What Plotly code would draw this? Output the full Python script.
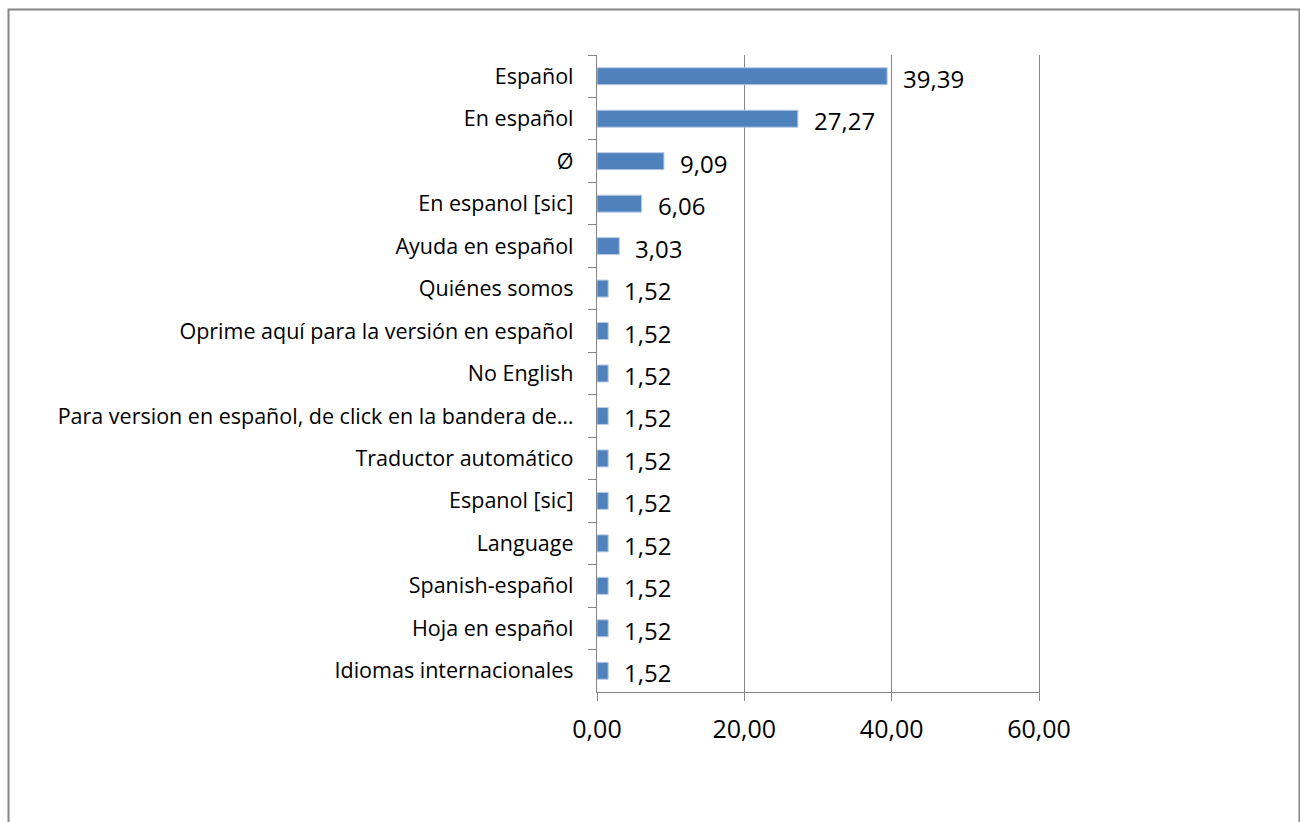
import plotly.graph_objects as go

categories = [
    "Español",
    "En español",
    "Ø",
    "En espanol [sic]",
    "Ayuda en español",
    "Quiénes somos",
    "Oprime aquí para la versión en español",
    "No English",
    "Para version en español, de click en la bandera de…",
    "Traductor automático",
    "Espanol [sic]",
    "Language",
    "Spanish-español",
    "Hoja en español",
    "Idiomas internacionales",
]
values = [39.39, 27.27, 9.09, 6.06, 3.03, 1.52, 1.52, 1.52, 1.52, 1.52, 1.52, 1.52, 1.52, 1.52, 1.52]
x_ticks = [0, 20, 40, 60]

GRAY = "#868686"
FONT = "Open Sans"

fig = go.Figure()
fig.add_trace(go.Bar(
    x=values, y=categories, orientation="h",
    marker=dict(color="#4F81BD", line=dict(color="#B9CDE5", width=1)),
    hoverinfo="skip",
))

for c, v in zip(categories, values):
    fig.add_annotation(
        x=v, y=c, xref="x", yref="y",
        text=f"{v:.2f}".replace(".", ","),
        showarrow=False, xanchor="left", yanchor="middle",
        xshift=14, yshift=-2,
        font=dict(family=FONT, size=24, color="#000000"),
    )

# outer chart border
W, H = 1300, 822
L, R, T, B = 597, 1039, 55, 692
def px_x(p):
    return (p - L) / (R - L)
def px_y(p):
    return (B - p) / (B - T)
fig.add_shape(
    type="rect", xref="paper", yref="paper",
    x0=px_x(8.5), x1=px_x(1299.5), y0=px_y(840), y1=px_y(9.5),
    line=dict(color=GRAY, width=2), fillcolor="rgba(0,0,0,0)", layer="below",
)

fig.update_layout(
    width=W, height=H,
    margin=dict(l=L, r=W - R, t=T, b=H - B, pad=0),
    paper_bgcolor="white", plot_bgcolor="white",
    separators=",.",
    bargap=0.6,
    showlegend=False,
    font=dict(family=FONT, color="#000000"),
    xaxis=dict(
        range=[0, 60], tickvals=x_ticks, tickformat=".2f",
        showgrid=True, gridcolor=GRAY, gridwidth=1.3,
        zeroline=False, showline=True, linecolor=GRAY, linewidth=1.3,
        ticks="outside", ticklen=8, tickcolor=GRAY, tickwidth=1.3,
        tickfont=dict(family=FONT, size=25, color="#000000"),
        ticklabelstandoff=7,
        fixedrange=True,
    ),
    yaxis=dict(
        type="category", autorange="reversed",
        showgrid=False, zeroline=False,
        showline=True, linecolor=GRAY, linewidth=1.3, mirror=True,
        ticks="outside", ticklen=8, tickcolor=GRAY, tickwidth=1.3,
        tickson="boundaries",
        tickfont=dict(family=FONT, size=21.5, color="#000000"),
        ticklabelstandoff=18,
        fixedrange=True,
    ),
)

fig.write_html("out.html")
